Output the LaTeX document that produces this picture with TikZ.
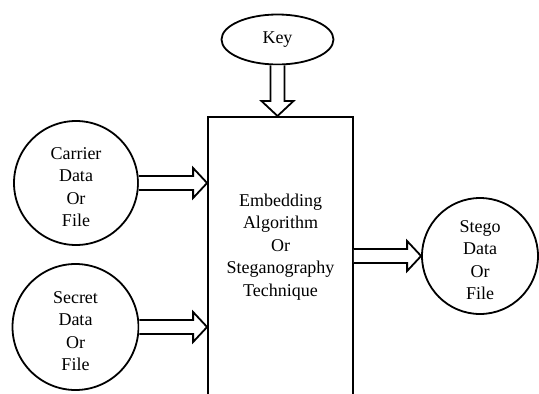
\documentclass[tikz,border=0pt]{standalone}
\usepackage{fontspec}
\setmainfont{Liberation Serif}
\usetikzlibrary{shapes.geometric,calc}
\newcommand\toppad{\rule{0pt}{20pt}}
\tikzset{
  lw/.style={line width=1.8pt},
  txtfont/.style={font=\fontsize{18}{22.5}\selectfont},
  blob/.style={circle, draw, lw, inner sep=0pt, align=center, txtfont},
  keyshape/.style={ellipse, draw, lw, inner sep=0pt, minimum width=112pt, minimum height=50pt, txtfont},
  boxshape/.style={rectangle, draw, lw, inner sep=0pt, minimum width=145pt, minimum height=300pt, anchor=north},
  boxtext/.style={align=center, inner sep=0pt, txtfont},
  hollow/.style={draw, lw, line join=miter, fill=white}
}
\newcommand\harrowx[2]{%
  \draw[hollow] let \p1=(#1), \p2=(#2) in
    (\x1,\y1+7pt) -- (\x2-14pt,\y1+7pt) -- (\x2-14pt,\y1+15pt) -- (\x2,\y1)
    -- (\x2-14pt,\y1-15pt) -- (\x2-14pt,\y1-7pt) -- (\x1,\y1-7pt);}
\newcommand\varrowx[2]{%
  \draw[hollow] let \p1=(#1), \p2=(#2) in
    (\x1-7pt,\y1) -- (\x1-7pt,\y2+15pt) -- (\x1-16pt,\y2+15pt) -- (\x1,\y2)
    -- (\x1+16pt,\y2+15pt) -- (\x1+7pt,\y2+15pt) -- (\x1+7pt,\y1);}
\begin{document}
\begin{tikzpicture}[x=1pt,y=-1pt]
\useasboundingbox (0,0) rectangle (539,394);
\clip (0,0) rectangle (539,394);
\node[boxshape] (emb) at (280.5,116) {};
\node[boxtext] (embtxt) at (280.5,247) {Embedding\\Algorithm\\Or\\Steganography\\Technique};
\node[keyshape] (key) at (277.5,39.5) {Key};
\node[blob, minimum size=124pt] (carrier) at (76,183) {\toppad Carrier\\Data\\Or\\File};
\node[blob, minimum size=126pt] (secret) at (75.5,327) {\toppad Secret\\Data\\Or\\File};
\node[blob, minimum size=116pt] (stego) at (480,256) {\toppad Stego\\Data\\Or\\File};
\varrowx{key.south}{emb.north}
\harrowx{carrier.east}{emb.west}
\harrowx{secret.east}{emb.west}
\harrowx{emb.east |- stego.west}{stego.west}
\end{tikzpicture}
\end{document}
